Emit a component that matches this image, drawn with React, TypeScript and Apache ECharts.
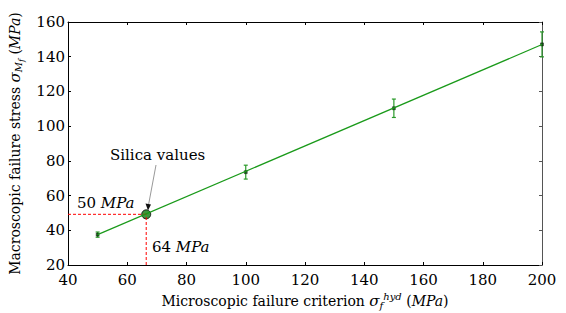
import React, { useEffect, useRef } from "react";
import * as echarts from "echarts";

const xValues = [50, 100, 150, 200];
const yValues = [37.5, 73.5, 110.3, 147.1];
const yErrors = [1.5, 4, 5.3, 7.2];
const fitX = [50, 200];
const fitY = [37.5, 147.0];
const silica = [66.4, 49.2];
const xTicks = { min: 40, max: 200, interval: 20 };
const yTicks = { min: 20, max: 160, interval: 20 };

const FONT = "DejaVu Serif";

export default function App() {
  const ref = useRef<HTMLDivElement>(null);
  useEffect(() => {
    if (!ref.current) return;
    const chart = echarts.init(ref.current, undefined, { renderer: "svg" });
    const errData = xValues.map((x, i) => [x, yValues[i] - yErrors[i], yValues[i] + yErrors[i]]);
    const titleRich = (subPad: number) => ({
      n: { fontFamily: FONT, fontSize: 14, color: "#000" },
      i: { fontFamily: FONT, fontSize: 14, fontStyle: "italic", color: "#000" },
      s: { fontFamily: FONT, fontSize: 15, fontStyle: "italic", color: "#000" },
      sub: { fontFamily: FONT, fontSize: 10, fontStyle: "italic", color: "#000", padding: [subPad, 0, 0, 0] },
      subsub: { fontFamily: FONT, fontSize: 8, fontStyle: "italic", color: "#000", padding: [13, 0, 0, 0] },
      sup: { fontFamily: FONT, fontSize: 10, fontStyle: "italic", color: "#000", padding: [0, 0, 9, 0] },
    });
    const annRich = {
      n: { fontFamily: FONT, fontSize: 15, fill: "#000" },
      i: { fontFamily: FONT, fontSize: 15, fontStyle: "italic", fill: "#000" },
    };
    chart.setOption({
      animation: false,
      backgroundColor: "#fff",
      textStyle: { fontFamily: FONT },
      grid: { left: 68, right: 24, top: 22, bottom: 48, outerBoundsMode: "none", containLabel: false },
      xAxis: [
        {
          type: "value",
          min: xTicks.min,
          max: xTicks.max,
          interval: xTicks.interval,
          axisLine: { show: true, lineStyle: { color: "#000", width: 1 } },
          axisTick: { show: true, inside: true, length: 3, lineStyle: { color: "#000" } },
          axisLabel: { fontFamily: FONT, color: "#000", fontSize: 15, margin: 7 },
          splitLine: { show: false },
          name: "{n|Microscopic failure criterion }{s|σ}{sub|f}{sup|hyd}{n| (}{i|MPa}{n|)}",
          nameLocation: "middle",
          nameGap: 24,
          nameTextStyle: { fontFamily: FONT, color: "#000", fontSize: 14, rich: titleRich(9) },
        },
        {
          type: "value",
          position: "top",
          min: xTicks.min,
          max: xTicks.max,
          interval: xTicks.interval,
          axisLine: { show: true, lineStyle: { color: "#000", width: 1 } },
          axisTick: { show: true, inside: true, length: 3, lineStyle: { color: "#000" } },
          axisLabel: { show: false },
          splitLine: { show: false },
        },
      ],
      yAxis: [
        {
          type: "value",
          min: yTicks.min,
          max: yTicks.max,
          interval: yTicks.interval,
          axisLine: { show: true, lineStyle: { color: "#000", width: 1 } },
          axisTick: { show: true, inside: true, length: 3, lineStyle: { color: "#000" } },
          axisLabel: { fontFamily: FONT, color: "#000", fontSize: 15, margin: 3, padding: [0, 0, 5, 0] },
          splitLine: { show: false },
          name: "{n|Macroscopic failure stress }{s|σ}{sub|M}{subsub|f}{n| (}{i|MPa}{n|)}",
          nameLocation: "middle",
          nameGap: 39,
          nameTextStyle: { fontFamily: FONT, color: "#000", fontSize: 14, rich: titleRich(7) },
        },
        {
          type: "value",
          position: "right",
          min: yTicks.min,
          max: yTicks.max,
          interval: yTicks.interval,
          axisLine: { show: true, lineStyle: { color: "#555", width: 1 } },
          axisTick: { show: true, inside: true, length: 3, lineStyle: { color: "#555" } },
          axisLabel: { show: false },
          splitLine: { show: false },
        },
      ],
      series: [
        {
          type: "line",
          data: [
            [xTicks.min, silica[1]],
            [silica[0], silica[1]],
          ],
          symbol: "none",
          lineStyle: { color: "#ff0000", width: 1, type: [3, 2] },
          silent: true,
        },
        {
          type: "line",
          data: [
            [silica[0], yTicks.min],
            [silica[0], silica[1]],
          ],
          symbol: "none",
          lineStyle: { color: "#ff0000", width: 1, type: [3, 2] },
          silent: true,
        },
        {
          type: "line",
          data: fitX.map((x, i) => [x, fitY[i]]),
          symbol: "none",
          lineStyle: { color: "#1a9a1a", width: 1.2 },
          silent: true,
        },
        {
          type: "custom",
          data: errData,
          renderItem: (params: any, api: any) => {
            const x = api.value(0);
            const lo = api.coord([x, api.value(1)]);
            const hi = api.coord([x, api.value(2)]);
            const c = 2;
            const style = { stroke: "#2a9a2a", lineWidth: 1.2 };
            return {
              type: "group",
              children: [
                { type: "line", shape: { x1: lo[0], y1: lo[1], x2: hi[0], y2: hi[1] }, style },
                { type: "line", shape: { x1: lo[0] - c, y1: lo[1], x2: lo[0] + c, y2: lo[1] }, style },
                { type: "line", shape: { x1: hi[0] - c, y1: hi[1], x2: hi[0] + c, y2: hi[1] }, style },
              ],
            };
          },
          silent: true,
        },
        {
          type: "scatter",
          data: xValues.map((x, i) => [x, yValues[i]]),
          symbol: "rect",
          symbolSize: 3,
          itemStyle: { color: "#0a4a0a", borderColor: "#000", borderWidth: 0.5 },
          silent: true,
        },
        {
          type: "scatter",
          data: [silica],
          symbolSize: 9,
          itemStyle: { color: "#0b7a0b", borderColor: "#000", borderWidth: 1 },
          silent: true,
        },
      ],
      graphic: [
        {
          type: "text",
          left: 110,
          top: 147,
          style: { text: "Silica values", fontFamily: FONT, fontSize: 15, fill: "#000" },
        },
        {
          type: "line",
          shape: { x1: 156, y1: 165, x2: 148.5, y2: 205 },
          style: { stroke: "#999", lineWidth: 1 },
        },
        {
          type: "polygon",
          shape: { points: [[148, 210.5], [145.5, 203.5], [151, 204.5]] },
          style: { fill: "#111" },
        },
        {
          type: "text",
          left: 77,
          top: 195,
          style: { text: "{n|50 }{i|MPa}", fontFamily: FONT, fontSize: 15, fill: "#000", rich: annRich },
        },
        {
          type: "text",
          left: 152,
          top: 239,
          style: { text: "{n|64 }{i|MPa}", fontFamily: FONT, fontSize: 15, fill: "#000", rich: annRich },
        },
      ],
    });
    return () => chart.dispose();
  }, []);
  return <div ref={ref} style={{ width: 566, height: 313, position: "absolute", left: 0, top: 0 }} />;
}
